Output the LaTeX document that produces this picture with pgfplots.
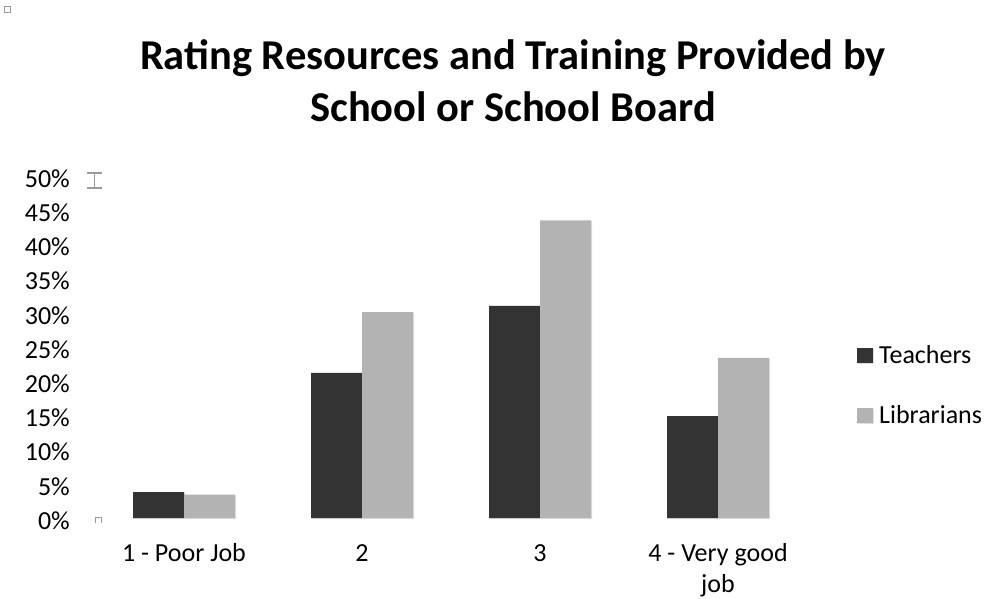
\documentclass[border=0pt]{standalone}
\usepackage{fontspec}
\setmainfont{Carlito}
\usepackage{pgfplots}
\pgfplotsset{compat=1.18}
\usetikzlibrary{shadows}

\definecolor{teach}{HTML}{333333}
\definecolor{libr}{HTML}{B3B3B3}
\definecolor{straygray}{HTML}{9A9A9A}

\begin{document}
\begin{tikzpicture}[x=1pt,y=1pt]
\path[use as bounding box] (0,0) rectangle (985,598);
% stray marks from the original sheet
\draw[straygray, line width=0.8pt] (4,586) rectangle (10,592);
\draw[straygray, line width=1.2pt] (87,425) -- (102,425) (94.5,425) -- (94.5,410) (87,410) -- (102,410);
\draw[straygray, line width=0.8pt] (95,75) -- (95,81) -- (101,81) -- (101,75);
\begin{axis}[
    at={(95pt,80pt)}, anchor=south west,
    scale only axis,
    width=712pt, height=342pt,
    ybar=0pt,
    bar width=51pt,
    xmin=-0.5, xmax=3.5,
    ymin=0, ymax=50,
    xtick=data,
    xticklabels={{\strut 1 - Poor Job}, {\strut 2}, {\strut 3}, {\strut 4 - Very good\\job}},
    ytick={0,5,...,50},
    yticklabel={\pgfmathprintnumber[assume math mode=true]{\tick}\%},
    axis line style={draw=none},
    major tick length=0pt,
    tick label style={font=\fontsize{26}{30.5}\selectfont, text=black},
    xticklabel style={align=center, inner sep=0pt, anchor=north, yshift=-22.4pt},
    yticklabel style={inner sep=0pt, xshift=-25pt, yshift=-2.5pt},
    title={\strut Rating Resources and Training Provided by\\School or School Board},
    title style={at={(0.587,1.4018)}, anchor=north, align=center, inner sep=0pt,
        font=\fontsize{42.5}{52}\selectfont\bfseries},
    legend style={draw=none, fill=none, at={(1.0702,0.3918)}, anchor=west,
        inner sep=0pt, row sep=42pt, column sep=0pt,
        nodes={inner sep=0pt, text height=18pt, text depth=0pt},
        font=\fontsize{26}{30.5}\selectfont},
    legend cell align=left,
    legend image code/.code={\fill[#1] (0pt,-9pt) rectangle (16pt,6pt); \path (22pt,0pt);},
    clip=false,
]
\addplot[fill=teach, draw=none, drop shadow={opacity=0.25, shadow xshift=1pt, shadow yshift=-1pt}]
    coordinates {(0,3.8) (1,21.2) (2,31.0) (3,14.9)};
\addplot[fill=libr, draw=none, drop shadow={opacity=0.25, shadow xshift=1pt, shadow yshift=-1pt}]
    coordinates {(0,3.4) (1,30.1) (2,43.5) (3,23.4)};
\legend{Teachers, Librarians}
\end{axis}
\end{tikzpicture}
\end{document}
